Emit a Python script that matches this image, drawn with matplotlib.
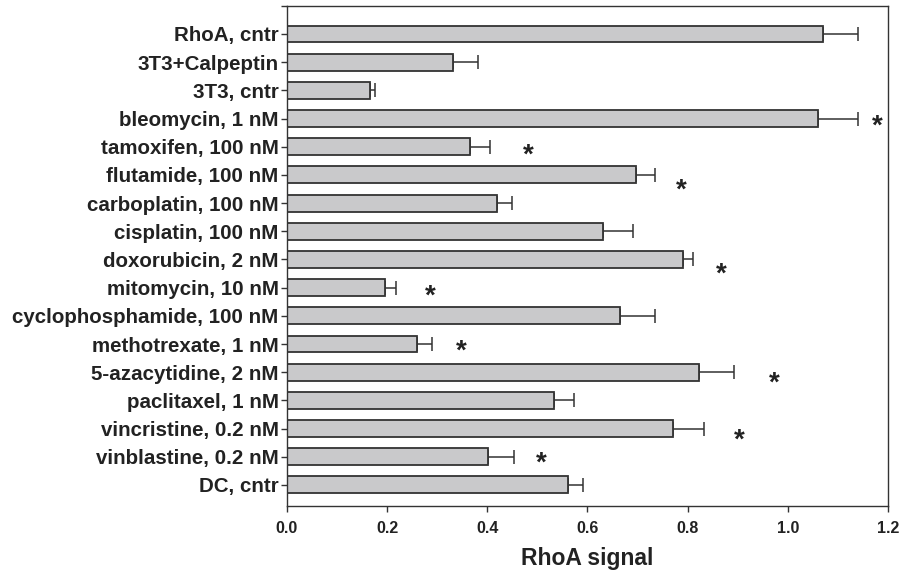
import matplotlib.pyplot as plt
import numpy as np

plt.rcParams['font.family'] = ['Liberation Sans', 'DejaVu Sans']

labels = ['RhoA, cntr', '3T3+Calpeptin', '3T3, cntr', 'bleomycin, 1 nM',
          'tamoxifen, 100 nM', 'flutamide, 100 nM', 'carboplatin, 100 nM',
          'cisplatin, 100 nM', 'doxorubicin, 2 nM', 'mitomycin, 10 nM',
          'cyclophosphamide, 100 nM', 'methotrexate, 1 nM',
          '5-azacytidine, 2 nM', 'paclitaxel, 1 nM', 'vincristine, 0.2 nM',
          'vinblastine, 0.2 nM', 'DC, cntr']
values = [1.070, 0.331, 0.166, 1.061, 0.366, 0.696, 0.420, 0.631, 0.790,
          0.196, 0.665, 0.259, 0.823, 0.533, 0.771, 0.402, 0.562]
errors = [0.070, 0.050, 0.010, 0.079, 0.039, 0.039, 0.030, 0.059, 0.020,
          0.021, 0.070, 0.030, 0.069, 0.040, 0.061, 0.051, 0.029]

# significance stars: row, x position, row shift
star_rows = [3, 4, 5, 8, 9, 11, 12, 14, 15]
star_x = [1.178, 0.481, 0.788, 0.868, 0.287, 0.349, 0.972, 0.903, 0.507]
star_dy = [0.0, 0.0, 0.25, 0.25, 0.0, -0.05, 0.1, 0.12, -0.05]

fig = plt.figure(figsize=(9.03, 5.81), dpi=100)
ax = fig.add_axes([0.3178, 0.129, 0.6656, 0.861])

y = np.arange(len(labels))
ax.barh(y, values, height=0.6, color='#c9c9cb', edgecolor='#333333',
        linewidth=1.3, zorder=2)
ax.errorbar(values, y, xerr=[np.zeros(len(errors)), errors], fmt='none',
            ecolor='#333333', elinewidth=1.1, capsize=4.7, capthick=1.1,
            zorder=1)

for r, sx, dy in zip(star_rows, star_x, star_dy):
    ax.annotate('*', (sx, r + dy), xytext=(0, -11.2),
                textcoords='offset points', ha='center', va='baseline',
                fontsize=20, fontweight='bold', color='#222222')

ax.set_xlim(0, 1.2)
ax.set_ylim(16.75, -1)
ax.set_xticks(np.arange(0, 1.21, 0.2))
ax.set_xticklabels(['%.1f' % v for v in np.arange(0, 1.21, 0.2)],
                   fontsize=11.5, fontweight='bold', color='#222222')
ax.set_yticks(list(y) + [-1])
ax.set_yticklabels(labels + [''], fontsize=14.8, fontweight='bold',
                   color='#222222')
ax.tick_params(axis='both', direction='out', length=4, width=1,
               color='#333333')
ax.tick_params(axis='y', pad=2)
ax.tick_params(axis='x', pad=7)
ax.set_xlabel('RhoA signal', fontsize=16.5, fontweight='bold',
              color='#222222', labelpad=8)

for s in ax.spines.values():
    s.set_color('#333333')
    s.set_linewidth(1.0)

fig.savefig('out.png', dpi=100)
